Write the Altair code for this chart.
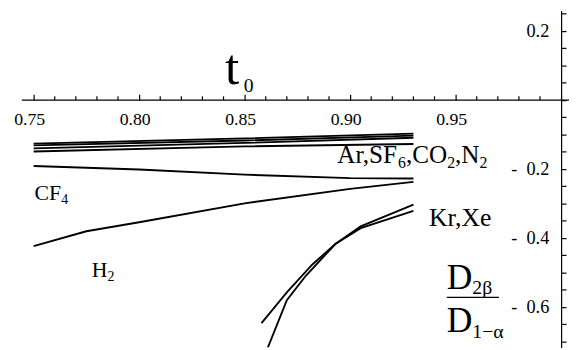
import altair as alt
import pandas as pd

# ---- data ----
t_group = [0.75, 0.85, 0.93]
ar_a = [-0.126, -0.111, -0.097]
ar_b = [-0.131, -0.117, -0.103]
ar_c = [-0.140, -0.124, -0.109]
ar_d = [-0.149, -0.134, -0.127]

t_cf4 = [0.75, 0.80, 0.85, 0.90, 0.93]
cf4 = [-0.191, -0.201, -0.216, -0.226, -0.227]

t_h2 = [0.75, 0.775, 0.80, 0.85, 0.90, 0.93]
h2 = [-0.423, -0.380, -0.354, -0.299, -0.257, -0.237]

t_kr = [0.858, 0.870, 0.882, 0.893, 0.905, 0.93]
kr = [-0.646, -0.557, -0.477, -0.417, -0.366, -0.303]
t_xe = [0.861, 0.870, 0.879, 0.893, 0.905, 0.93]
xe = [-0.717, -0.580, -0.509, -0.417, -0.371, -0.321]

x_major = [0.75, 0.80, 0.85, 0.90, 0.95]
x_major_labels = ["0.75", "0.80", "0.85", "0.90", "0.95"]
x_minor = [0.76, 0.77, 0.78, 0.79, 0.81, 0.82, 0.83, 0.84, 0.86, 0.87, 0.88, 0.89,
           0.91, 0.92, 0.93, 0.94, 0.96, 0.97, 0.98, 0.99]
y_ticks = [-0.70, -0.65, -0.60, -0.55, -0.50, -0.45, -0.40, -0.35, -0.30, -0.25,
           -0.20, -0.15, -0.10, -0.05, 0.0, 0.05, 0.10, 0.15, 0.20, 0.25]
y_label_vals = [0.2, -0.2, -0.4, -0.6]
y_label_text = ["0.2", "-\u00a0 0.2", "-\u00a0 0.4", "-\u00a0 0.6"]

rows = []
for name, ts, vs in [("a", t_group, ar_a), ("b", t_group, ar_b), ("c", t_group, ar_c),
                     ("d", t_group, ar_d), ("cf4", t_cf4, cf4), ("h2", t_h2, h2),
                     ("kr", t_kr, kr), ("xe", t_xe, xe)]:
    for i, (t, v) in enumerate(zip(ts, vs)):
        rows.append({"t": t, "v": v, "s": name, "o": i})
df = pd.DataFrame(rows)
df_minor = pd.DataFrame({"t": x_minor})
df_xlab = pd.DataFrame({"t": x_major, "lab": x_major_labels})
df_ylab = pd.DataFrame({"v": y_label_vals, "lab": y_label_text})

W, H = 569, 342
FONT = "Liberation Serif"

xscale = alt.Scale(domain=[0.73785, 1.00374], nice=False, zero=False)
yscale = alt.Scale(domain=[-0.717143, 0.26], nice=False, zero=False)

xaxis = alt.Axis(orient="top", offset=-91, values=x_major, domain=False, labels=False,
                 tickSize=6, tickColor="black", tickWidth=1.2, grid=False, title=None)
yaxis = alt.Axis(orient="right", offset=-8, values=y_ticks, labels=False, domain=True,
                 domainColor="black", domainWidth=1.2, tickSize=5, tickColor="black",
                 tickWidth=1.2, grid=False, title=None)

X = alt.X("t:Q", scale=xscale, axis=xaxis)
Y = alt.Y("v:Q", scale=yscale, axis=yaxis)
Y0 = alt.YDatum(0, scale=yscale, axis=yaxis)

lines = alt.Chart(df).mark_line(color="black", strokeWidth=1.9, clip=True).encode(
    x=X, y=Y, detail="s:N", order="o:Q")

minor = alt.Chart(df_minor).mark_rule(color="black", strokeWidth=1.2).encode(
    x=X, y=Y0, y2=alt.Y2Datum(0.011))

hline = alt.Chart(pd.DataFrame({"a": [0]})).mark_rule(color="black", strokeWidth=1.3).encode(
    x=alt.value(14), x2=alt.value(W), y=Y0)

xlabels = alt.Chart(df_xlab).mark_text(font=FONT, fontSize=18, color="black",
                                       align="center", baseline="middle", dy=20, dx=-4).encode(
    x=X, y=Y0, text="lab:N")

ylabels = alt.Chart(df_ylab).mark_text(font=FONT, fontSize=18.5, color="black",
                                       align="right", baseline="middle", dx=-12).encode(
    x=alt.XDatum(1.0, scale=xscale, axis=xaxis), y=Y, text="lab:N")

one = pd.DataFrame({"a": [0]})

# Times metrics (1/1000 em)
WID = {'A': 722, 'r': 333, ',': 250, 'S': 556, 'F': 556, 'C': 667, 'O': 722, 'N': 722,
       'K': 722, 'X': 722, 'e': 444, 'H': 722, 'D': 722, 't': 278, '−': 564,
       'β': 500, 'α': 525, ' ': 250}


def tw(s, size):
    return sum(WID.get(ch, 500) for ch in s) * size / 1000.0


def rich(x0, y0, pieces, size, subsize, subdrop):
    out = []
    x = x0
    for txt, sub in pieces:
        fs = subsize if sub else size
        yy = y0 + subdrop if sub else y0
        out.append(alt.Chart(one).mark_text(text=txt, font=FONT, fontSize=fs, align="left",
                                            baseline="alphabetic", color="black").encode(
            x=alt.value(x), y=alt.value(yy)))
        x += tw(txt, fs)
    return out


texts = []
texts += rich(220, 75, [("t", False)], 52, 20, 0)
texts += rich(239, 83, [("0", True)], 52, 20, 0)
texts += rich(27, 192, [("CF", False), ("4", True)], 22, 14, 4)
texts += rich(85, 270, [("H", False), ("2", True)], 22, 14, 4)
texts += rich(334, 155, [("Ar,SF", False), ("6", True), (",CO", False), ("2", True),
                         (",N", False), ("2", True)], 25.5, 16, 5)
texts += rich(427, 219, [("Kr,Xe", False)], 26, 16, 5)
texts += rich(445, 283, [("D", False), ("2β", True)], 36, 20, 5)
texts += rich(445, 326, [("D", False), ("1−α", True)], 36, 20, 6)

bar = alt.Chart(one).mark_rule(color="black", strokeWidth=1.3).encode(
    x=alt.value(445), x2=alt.value(498), y=alt.value(291))

chart = alt.layer(lines, minor, hline, xlabels, ylabels, bar, *texts).properties(
    width=W, height=H, autosize=alt.AutoSizeParams(type="none"), padding=0,
    background="white"
).configure_view(stroke=None)

chart.save("out.html", embed_options={"renderer": "svg", "actions": False})
